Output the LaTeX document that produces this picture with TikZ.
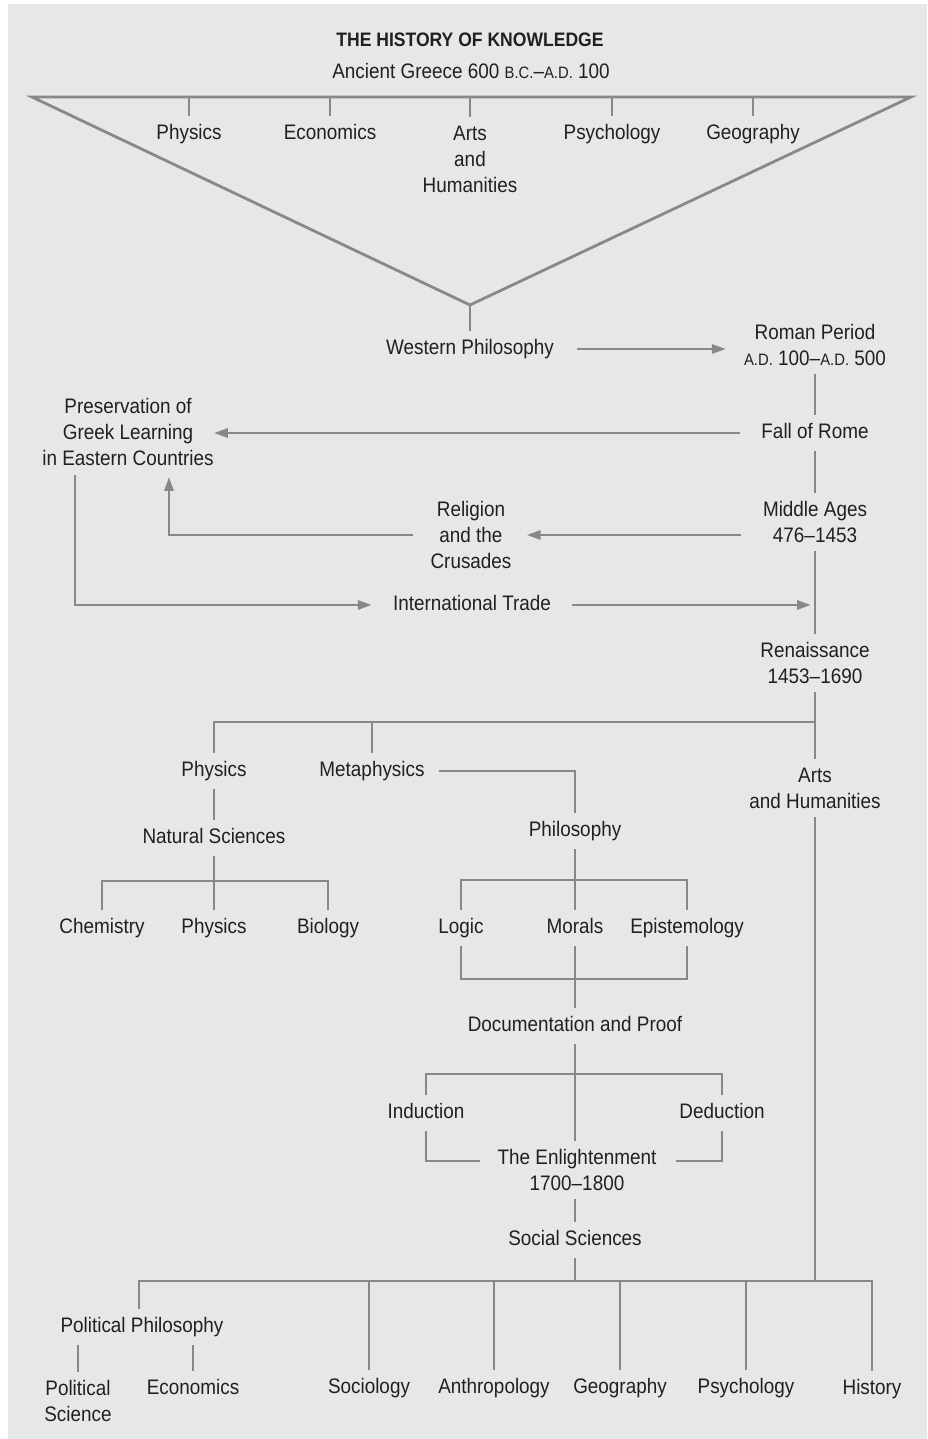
\documentclass[tikz,border=0pt]{standalone}
\usepackage{fontspec}
\setmainfont{Liberation Sans}[FakeStretch=0.9]
\usetikzlibrary{arrows.meta}
\definecolor{bgc}{HTML}{E6E7E9}
\definecolor{lnc}{HTML}{888888}
\definecolor{txc}{HTML}{231F20}
\newcommand\smallcp[1]{{\fontsize{16.5}{20}\selectfont #1}}
\begin{document}
\begin{tikzpicture}[x={(1pt,0pt)}, y={(0pt,-1pt)},
  lbl/.style={font=\fontsize{21}{26}\selectfont, text=txc, align=center, inner xsep=3pt, inner ysep=8pt},
  one/.style={lbl, text height=15.3pt, text depth=4.4pt},
  conn/.style={draw=lnc, line width=2.8pt},
  arr/.style={conn, -{Triangle[length=14pt,width=9pt]}}]
\useasboundingbox (0,0) rectangle (927,1439);
\fill[bgc] (8,4) rectangle (927,1439);

% title
\node[one, font=\fontsize{19.5}{24}\selectfont\bfseries] (title) at (470,41) {THE HISTORY OF KNOWLEDGE};
\node[one] (ag) at (471,73) {Ancient Greece 600 \smallcp{B.C.}–\smallcp{A.D.} 100};

% triangle
\coordinate (tl) at (32,97);
\coordinate (tr) at (911,97);
\coordinate (tv) at (470,305);
\draw[conn, line join=miter] (tl) -- (tr) -- (tv) -- cycle;
\node[one] (g1) at (189,134) {Physics};
\node[one] (g2) at (330,134) {Economics};
\node[lbl] (g3) at (470,159) {Arts\\and\\Humanities};
\node[one] (g4) at (612,134) {Psychology};
\node[one] (g5) at (753,134) {Geography};
\foreach \g in {g1,g2,g3,g4,g5} \draw[conn] (\g |- tl) -- (\g);

\node[one] (wp) at (470,349) {Western Philosophy};
\draw[conn] (tv) -- (wp);
\node[lbl] (rp) at (815,345) {Roman Period\\\smallcp{A.D.} 100–\smallcp{A.D.} 500};
\draw[arr] ([xshift=20pt]wp.east) -- ([xshift=-15pt]wp.east -| rp.west);

\node[one] (fr) at (815,433) {Fall of Rome};
\draw[conn] (rp) -- (fr);
\node[lbl, inner xsep=0pt] (pg) at (128,432) {Preservation of\\Greek Learning\\in Eastern Countries};
\draw[arr] ([xshift=-18pt]fr.west) -- (fr.west -| pg.east);

\node[lbl] (ma) at (815,522) {Middle Ages\\476–1453};
\draw[conn] (fr) -- (ma);
\node[lbl] (rc) at (471,535) {Religion\\and the\\Crusades};
\draw[arr] ([xshift=-19pt]rc.east -| ma.west) -- ([xshift=12pt]rc.east);
\draw[arr] ([xshift=-14pt]rc.west) -| ([xshift=41pt,yshift=-3pt]pg.south);

\node[one] (it) at (472,605) {International Trade};
\draw[arr] ([xshift=-53pt,yshift=-1pt]pg.south) |- ([xshift=-18pt]it.west);
\draw[arr] ([xshift=18pt]it.east) -- ([xshift=-4pt]it.east -| ma.south);

\node[lbl] (re) at (815,663) {Renaissance\\1453–1690};
\draw[conn] (ma) -- (re);
\node[lbl] (ah) at (815,788) {Arts\\and Humanities};
\draw[conn] (re) -- (ah);
\coordinate (rb) at (815,722);
\node[one] (ph1) at (214,771) {Physics};
\node[one] (mp) at (372,771) {Metaphysics};
\node[one] (phil) at (575,831) {Philosophy};
\draw[conn] (rb) -| (ph1);
\draw[conn] (mp |- rb) -- (mp);
\draw[conn] ([xshift=11pt]mp.east) -| (phil);

\node[one] (ns) at (214,838) {Natural Sciences};
\draw[conn] (ph1) -- (ns);
\coordinate (nb) at (214,881);
\node[one] (ch) at (102,928) {Chemistry};
\node[one] (ph2) at (214,928) {Physics};
\node[one] (bi) at (328,928) {Biology};
\draw[conn] (ns) -- (ph2);
\draw[conn] (ch) |- (nb) -| (bi);

\coordinate (pb) at (575,880);
\node[one] (lo) at (461,928) {Logic};
\node[one] (mo) at (575,928) {Morals};
\node[one] (ep) at (687,928) {Epistemology};
\draw[conn] (phil) -- (mo);
\draw[conn] (lo) |- (pb) -| (ep);
\coordinate (db) at (575,979);
\node[one] (dp) at (575,1026) {Documentation and Proof};
\draw[conn] (mo) -- (dp);
\draw[conn] (lo) |- (db) -| (ep);

\node[one] (in) at (426,1113) {Induction};
\node[one] (de) at (722,1113) {Deduction};
\node[lbl] (en) at (577,1170) {The Enlightenment\\1700–1800};
\coordinate (eb) at (575,1074);
\draw[conn] (dp) -- (dp |- en.north);
\draw[conn] (in) |- (eb) -| (de);
\draw[conn] (in) |- ([xshift=-14pt,yshift=9pt]en.west);
\draw[conn] (de) |- ([xshift=16pt,yshift=9pt]en.east);

\node[one] (ss) at (575,1240) {Social Sciences};
\draw[conn] (en.south -| ss) -- (ss);
\coordinate (sb) at (575,1281);
\draw[conn] (ss) -- (sb);
\draw[conn] (ah) -- (ah |- sb);

\node[one] (pp) at (142,1327) {Political Philosophy};
\node[one] (so) at (369,1388) {Sociology};
\node[one] (an) at (494,1388) {Anthropology};
\node[one] (ge) at (620,1388) {Geography};
\node[one] (ps) at (746,1388) {Psychology};
\node[one] (hi) at (872,1389) {History};
\node[lbl] (psc) at (78,1401) {Political\\Science};
\node[one] (ec) at (193,1389) {Economics};
\draw[conn] ([xshift=-3pt]pp.north) |- (sb) -| (hi);
\foreach \n in {so,an,ge,ps} \draw[conn] (\n |- sb) -- (\n);
\draw[conn] (pp.south -| psc) -- (psc);
\draw[conn] (pp.south -| ec) -- (ec);
\end{tikzpicture}
\end{document}
